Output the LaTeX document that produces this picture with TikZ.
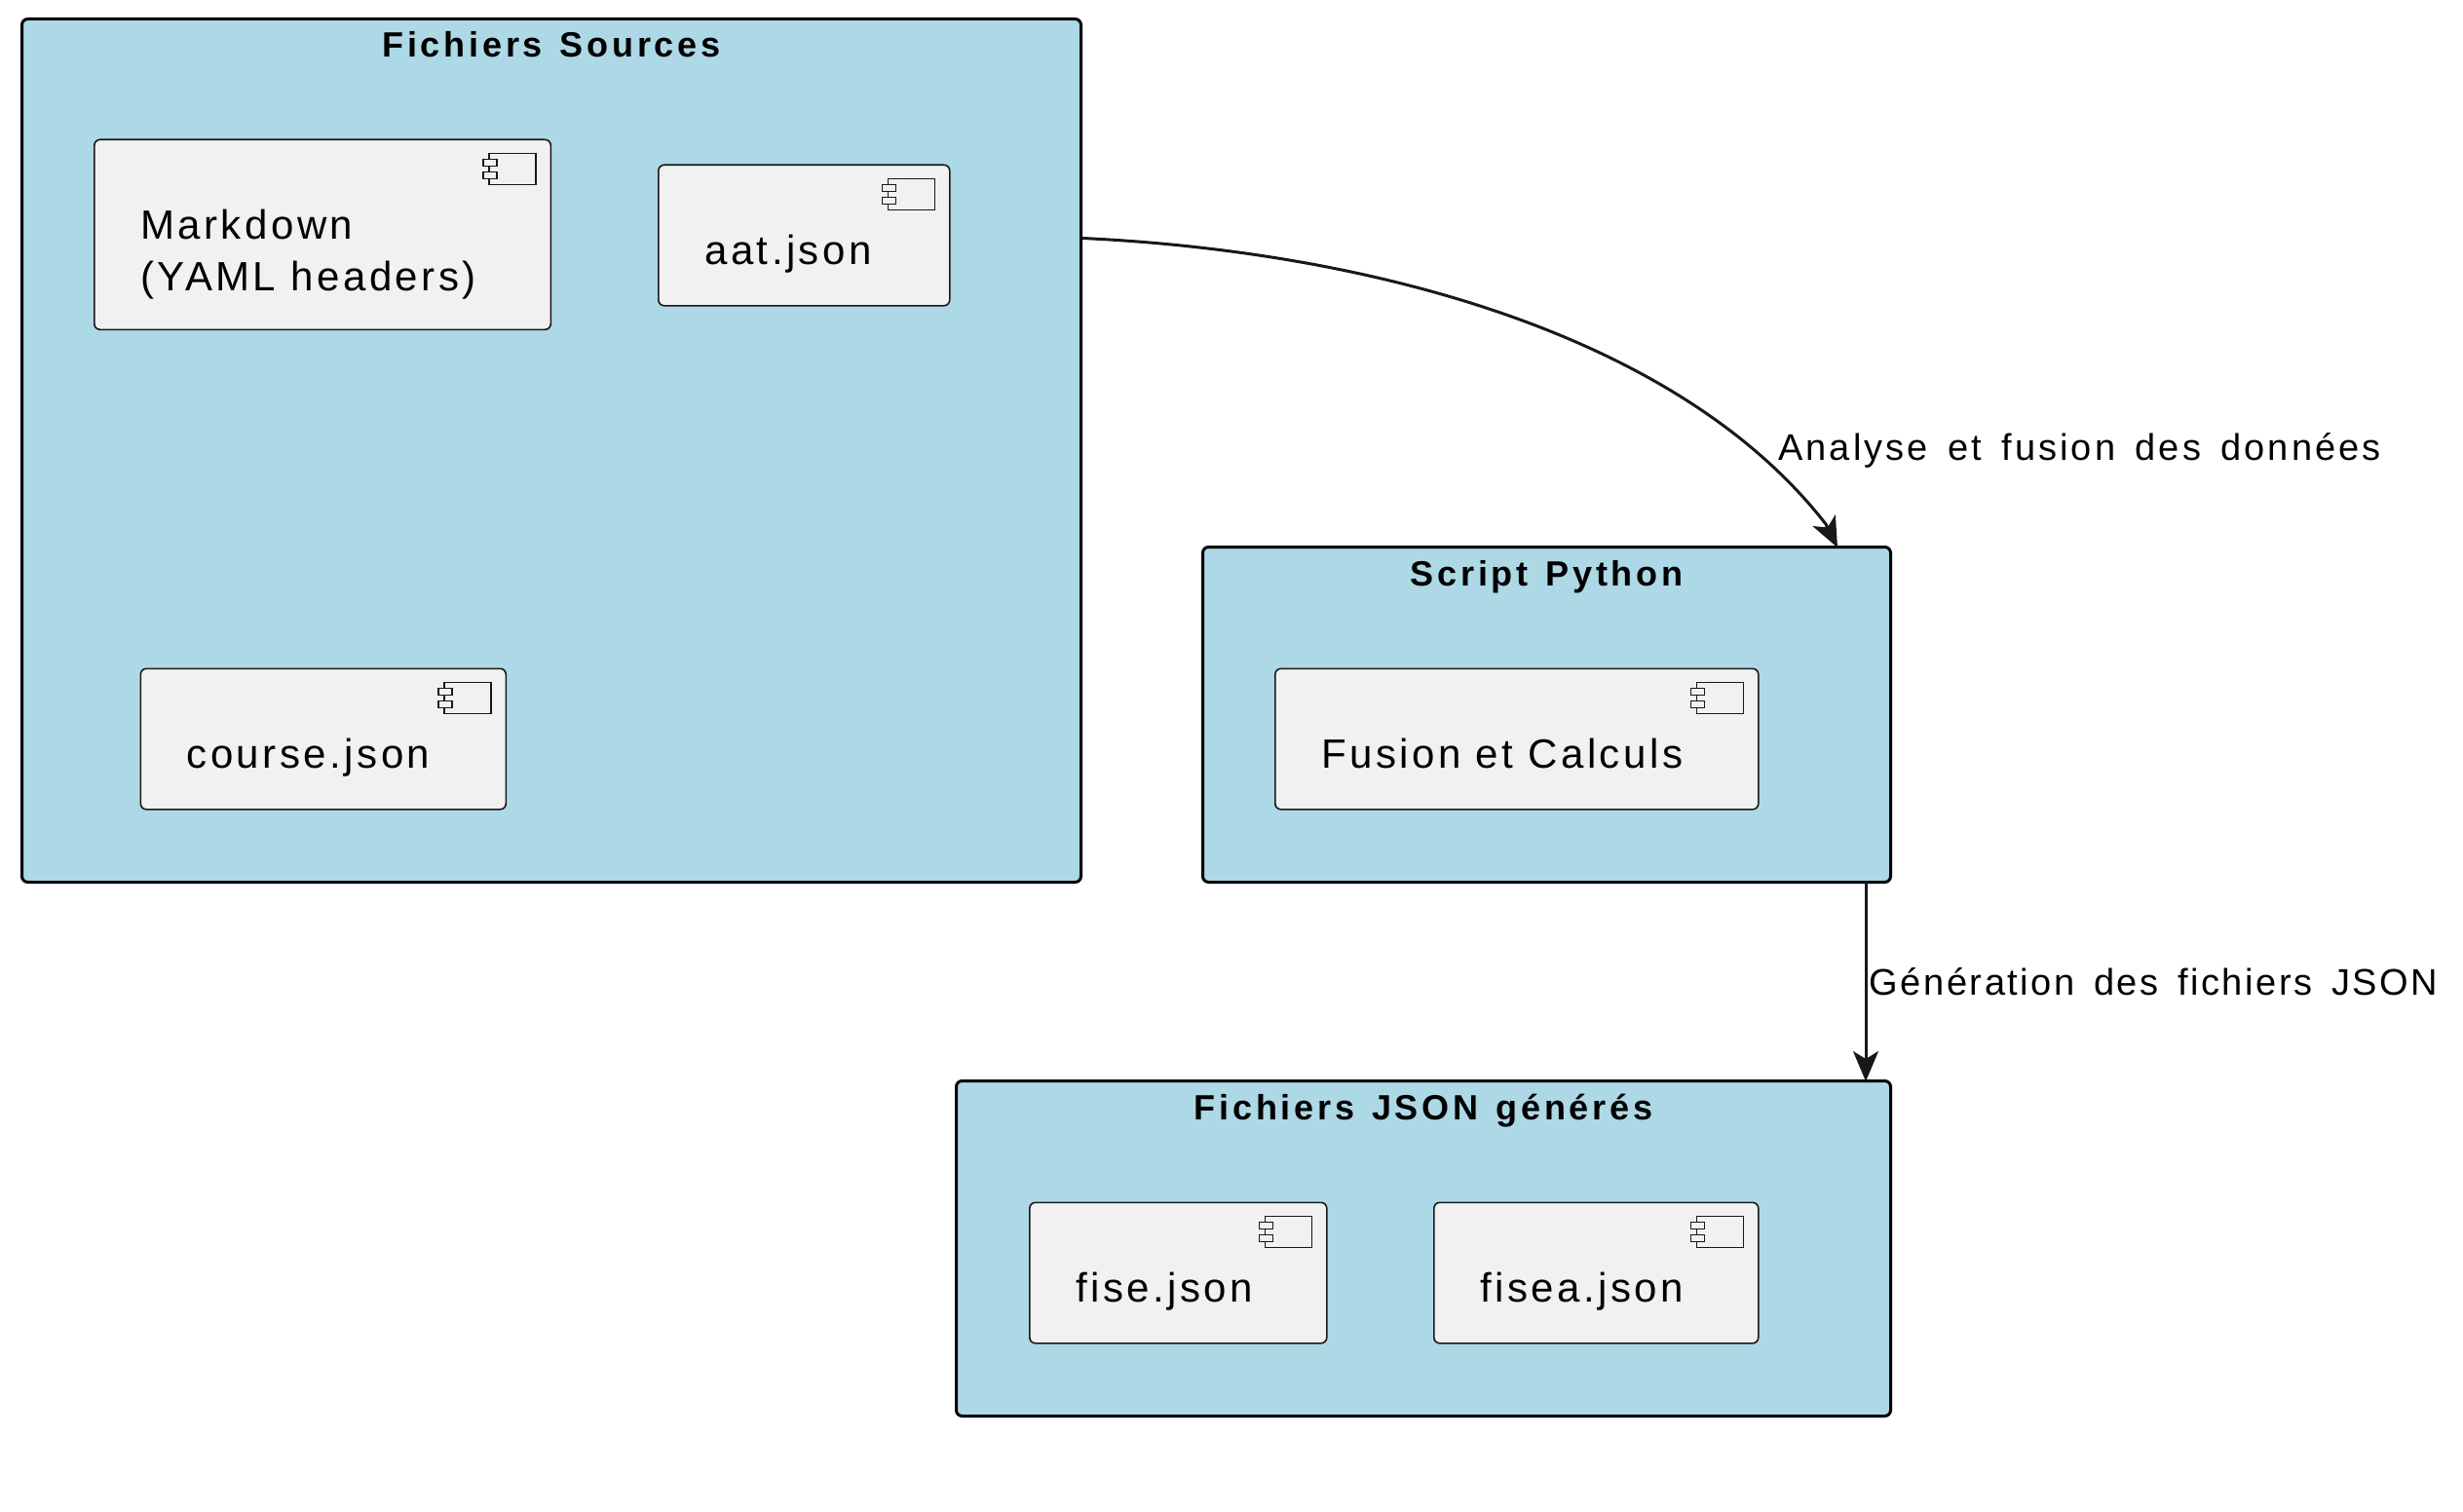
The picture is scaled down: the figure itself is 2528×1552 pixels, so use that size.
\documentclass[tikz,border=0pt]{standalone}
\usepackage{fontspec}
\usetikzlibrary{arrows.meta}
\usetikzlibrary{calc}
\newfontfamily\labelFont[LetterSpace=8.3]{Liberation Sans}
\newfontfamily\flowFont[LetterSpace=8.1,WordSpace=1.5]{Liberation Sans}
\newfontfamily\flowFontTight[LetterSpace=6.7,WordSpace=1.5]{Liberation Sans}
\newfontfamily\titleFont[LetterSpace=10.5,WordSpace=1.3]{Liberation Sans}
\definecolor{frameBlue}{HTML}{ADD8E6}
\definecolor{boxGrey}{HTML}{F1F1F1}
\definecolor{lineGrey}{HTML}{181818}
\tikzset{groupFrame/.style={draw=black,fill=frameBlue,line width=3pt,rounded corners=6pt,anchor=north west,inner sep=0pt}}
\tikzset{groupTitle/.style={anchor=base,inner sep=0pt,font=\titleFont\bfseries\fontsize{36}{42}\selectfont}}
\tikzset{component/.style={draw=lineGrey,fill=boxGrey,line width=1.6pt,rounded corners=6pt,anchor=north west,inner sep=0pt}}
\tikzset{componentLabel/.style={anchor=base west,inner sep=0pt,align=left,font=\labelFont\fontsize{42}{52.5}\selectfont}}
\tikzset{flow/.style={draw=lineGrey,line width=3pt,-{Stealth[length=31pt,width=26pt,inset=8pt]}}}
\tikzset{flowLabel/.style={anchor=base west,inner sep=0pt,font=\flowFont\fontsize{38}{46}\selectfont}}
\tikzset{componentIcon/.pic={
  \draw[draw=lineGrey,line width=1.6pt] (-64,15) rectangle (-16,47);
  \filldraw[draw=lineGrey,fill=boxGrey,line width=1.6pt] (-70,21) rectangle (-56,28);
  \filldraw[draw=lineGrey,fill=boxGrey,line width=1.6pt] (-70,34) rectangle (-56,41);
}}

\begin{document}
\begin{tikzpicture}[x=1pt,y=-1pt]
\useasboundingbox (0,0) rectangle (2528,1552);

% source files
\node[groupFrame,minimum width=1087pt,minimum height=886pt] (sources) at (21,18) {};
\node[groupTitle] (sourcesTitle) at ($(sources.north)+(0,41)$) {Fichiers Sources};
\node[component,minimum width=468.5pt,minimum height=195pt] (markdown) at (96,142.5) {};
\node[componentLabel] (markdownLabel) at ($(markdown.north west)+(48,155.5)$) {Markdown\\(YAML headers)};
\pic at (markdown.north east) {componentIcon};
\node[component,minimum width=299pt,minimum height=144.5pt] (aat) at (675,168.5) {};
\node[componentLabel] (aatLabel) at ($(aat.north west)+(48,103)$) {aat.json};
\pic at (aat.north east) {componentIcon};
\node[component,minimum width=375pt,minimum height=144.5pt] (course) at (143.5,685.5) {};
\node[componentLabel] (courseLabel) at ($(course.north west)+(48,103)$) {course.json};
\pic at (course.north east) {componentIcon};

% python script
\node[groupFrame,minimum width=706pt,minimum height=344pt] (python) at (1233,560) {};
\node[groupTitle] (pythonTitle) at ($(python.north)+(0,41)$) {Script Python};
\node[component,minimum width=496pt,minimum height=144.5pt] (fusion) at (1308,685.5) {};
\node[componentLabel] (fusionLabel) at ($(fusion.north west)+(48,103)$) {Fusion et Calculs};
\pic at (fusion.north east) {componentIcon};

% generated files
\node[groupFrame,minimum width=959pt,minimum height=344pt] (generated) at (980,1108) {};
\node[groupTitle] (generatedTitle) at ($(generated.north)+(0,41)$) {Fichiers JSON générés};
\node[component,minimum width=305pt,minimum height=144.5pt] (fise) at (1056,1233.5) {};
\node[componentLabel] (fiseLabel) at ($(fise.north west)+(48,103)$) {fise.json};
\pic at (fise.north east) {componentIcon};
\node[component,minimum width=333pt,minimum height=144.5pt] (fisea) at (1471,1233.5) {};
\node[componentLabel] (fiseaLabel) at ($(fisea.north west)+(48,103)$) {fisea.json};
\pic at (fisea.north east) {componentIcon};

% flows
\coordinate (sourcesOut) at (sources.north east |- 0,244.5);
\coordinate (pythonKnee) at (1874,538);
\coordinate (pythonIn) at (1886,562);
\coordinate (pythonOut) at (1915,904);
\coordinate (generatedIn) at (1915,1110);
\draw[flow] (sourcesOut) .. controls (1400,258) and (1720,340) .. (pythonKnee) -- (pythonIn);
\draw[flow] (pythonOut) -- (generatedIn);
\node[flowLabel] (analyseLabel) at (1825,472) {Analyse et fusion des données};
\node[flowLabel,font=\flowFontTight\fontsize{38}{46}\selectfont] (generationLabel) at (1918.5,1021) {Génération des fichiers JSON};
\end{tikzpicture}
\end{document}
